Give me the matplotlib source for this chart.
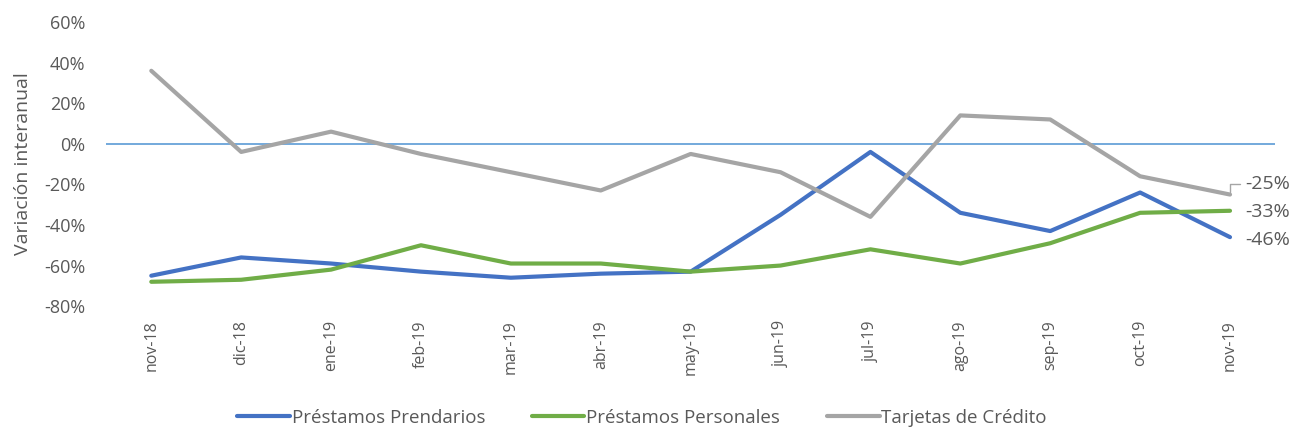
import numpy as np
import matplotlib.pyplot as plt

# datos (variación interanual, %)
meses = ["nov-18", "dic-18", "ene-19", "feb-19", "mar-19", "abr-19", "may-19",
         "jun-19", "jul-19", "ago-19", "sep-19", "oct-19", "nov-19"]
prendarios = [-65, -56, -59, -63, -66, -64, -63, -35, -4, -34, -43, -24, -46]
personales = [-68, -67, -62, -50, -59, -59, -63, -60, -52, -59, -49, -34, -33]
tarjetas = [36, -4, 6, -5, -14, -23, -5, -14, -36, 14, 12, -16, -25]

plt.rcParams['font.family'] = ['Open Sans', 'DejaVu Sans']
gris = '#595959'

fig = plt.figure(figsize=(12.97, 4.33), dpi=100)
ax = fig.add_axes([0.082, 0.293, 0.901, 0.656])

x = np.arange(len(meses))
ax.axhline(0, color='#5B9BD5', lw=1.2, zorder=1)
ax.plot(x, prendarios, color='#4472C4', lw=3, label='Préstamos Prendarios', solid_capstyle='round')
ax.plot(x, personales, color='#70AD47', lw=3, label='Préstamos Personales', solid_capstyle='round')
ax.plot(x, tarjetas, color='#A5A5A5', lw=3, label='Tarjetas de Crédito', solid_capstyle='round')

# etiquetas del último dato
ult = len(meses) - 1
ax.annotate(f"{tarjetas[-1]}%", xy=(ult, tarjetas[-1]), xytext=(ult + 0.17, -20),
            color=gris, fontsize=14, va='center', ha='left',
            arrowprops=dict(arrowstyle='-', color='#A5A5A5', lw=1,
                            connectionstyle='angle,angleA=0,angleB=90,rad=0',
                            shrinkA=2, shrinkB=2))
ax.text(ult + 0.17, -33.7, f"{personales[-1]}%", color=gris, fontsize=14, va='center', ha='left')
ax.text(ult + 0.17, -47.3, f"{prendarios[-1]}%", color=gris, fontsize=14, va='center', ha='left')

ax.set_xlim(-0.5, len(meses) - 0.5)
ax.set_ylim(-80, 60)
ax.set_yticks(np.arange(-80, 61, 20))
ax.set_yticklabels([f"{v}%" for v in range(-80, 61, 20)])
ax.set_xticks(x)
ax.set_xticklabels(meses, rotation=90)
ax.tick_params(length=0, colors=gris)
ax.tick_params(axis='x', labelsize=11.5, pad=10)
ax.tick_params(axis='y', labelsize=13, pad=15)
for s in ax.spines.values():
    s.set_visible(False)
ax.set_ylabel('Variación interanual', color=gris, fontsize=14)
ax.yaxis.set_label_coords(-0.064, 0.5)

fig.legend(loc='lower center', ncol=3, frameon=False, fontsize=13.5,
           labelcolor=gris, bbox_to_anchor=(0.495, -0.025), handlelength=2.8,
           handletextpad=0.1, columnspacing=2.5)

fig.savefig('out.png', dpi=100)
